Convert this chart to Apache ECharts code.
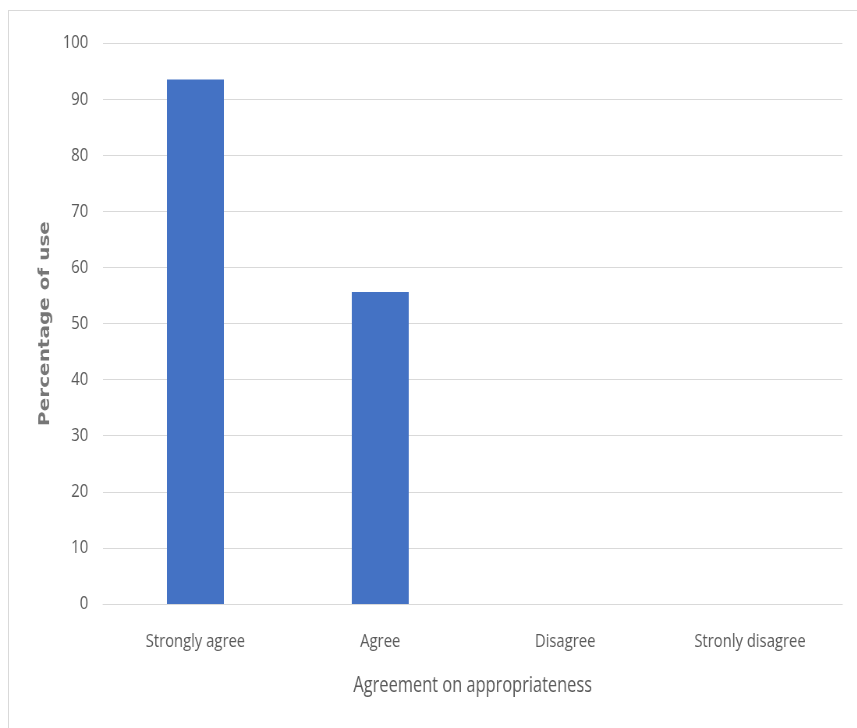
<!DOCTYPE html>
<html>
<head>
<meta charset="utf-8">
<script src="https://cdn.jsdelivr.net/npm/echarts@6/dist/echarts.min.js"></script>
<style>
  html, body { margin: 0; padding: 0; background: #fff; overflow: hidden; }
  #stage { position: relative; width: 857px; height: 728px; overflow: hidden; }
  #frame {
    position: absolute; left: 8px; top: 10px; right: -2px; bottom: -2px;
    border-left: 1px solid #d9d9d9; border-top: 1px solid #d9d9d9;
    pointer-events: none;
  }
  /* the chart is laid out wide and drawn condensed horizontally */
  #chart { position: absolute; left: 0; top: 0; width: 1099px; height: 728px;
           transform: scaleX(0.78); transform-origin: 0 0; }
</style>
</head>
<body>
<div id="stage">
  <div id="chart"></div>
  <div id="frame"></div>
</div>
<script>
// Responses by level of agreement
const categories = ['Strongly agree', 'Agree', 'Disagree', 'Stronly disagree'];
const percentages = [93.5, 55.6, 0, 0];
const yTicks = { min: 0, max: 100, interval: 10 };

const labelFont = "'Open Sans', sans-serif";
const textGray = '#595959';

const chart = echarts.init(document.getElementById('chart'), null, { renderer: 'canvas' });
chart.setOption({
  animation: false,
  backgroundColor: 'transparent',
  grid: { left: 132, right: 19, top: 43, bottom: 124 },
  xAxis: {
    type: 'category',
    data: categories,
    name: 'Agreement on appropriateness',
    nameLocation: 'middle',
    nameGap: 72,
    nameTextStyle: { fontFamily: labelFont, fontSize: 21, color: textGray },
    axisLine: { show: true, lineStyle: { color: '#d9d9d9', width: 1 } },
    axisTick: { show: false },
    axisLabel: { fontFamily: labelFont, fontSize: 19, color: textGray, margin: 28 }
  },
  yAxis: {
    type: 'value',
    min: yTicks.min,
    max: yTicks.max,
    interval: yTicks.interval,
    name: 'Percentage of use',
    nameLocation: 'middle',
    nameGap: 64,
    nameTextStyle: { fontFamily: "'DejaVu Sans', sans-serif", fontSize: 20, fontWeight: 'bold', color: '#767676' },
    axisLine: { show: false },
    axisTick: { show: false },
    axisLabel: { fontFamily: labelFont, fontSize: 19, color: textGray, margin: 19 },
    splitLine: { lineStyle: { color: '#d9d9d9', width: 1 } }
  },
  series: [{
    type: 'bar',
    data: percentages,
    barWidth: 73,
    itemStyle: { color: '#4472c4' }
  }]
});
</script>
</body>
</html>
